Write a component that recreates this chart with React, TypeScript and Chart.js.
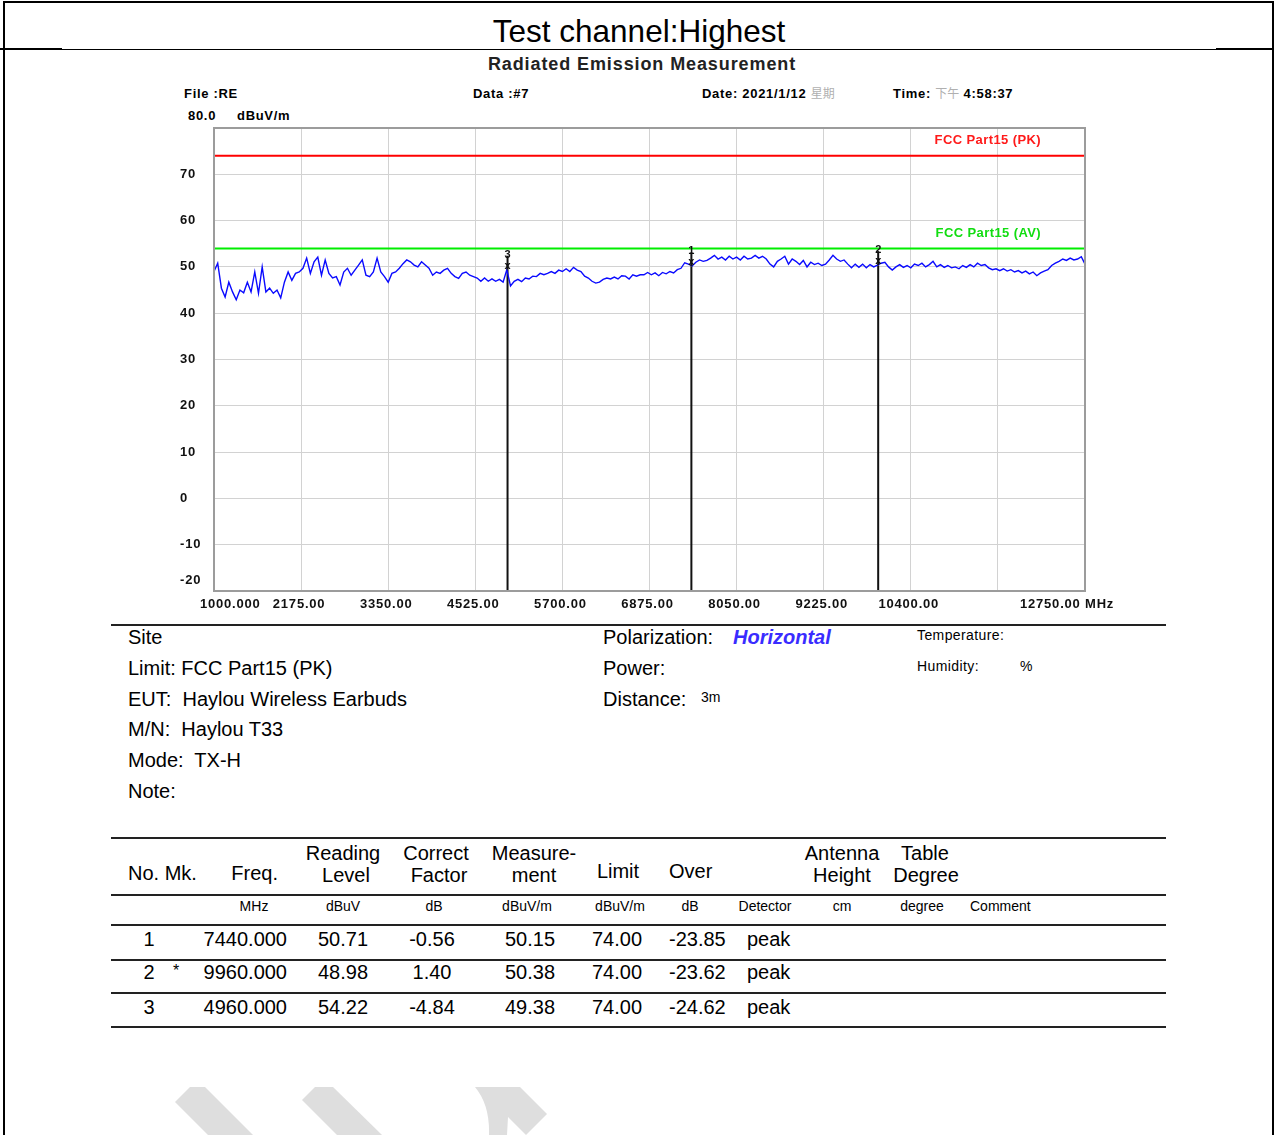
import React, { useEffect, useRef } from 'react';
import { Chart, registerables } from 'chart.js';

Chart.register(...registerables);

// ---------- chart data ----------
const F_START = 1000;
const F_STEP = 50;
const LEVELS_A = [49.0, 50.8, 45.4, 43.5, 46.7, 44.6, 42.9, 45.0, 44.4, 46.7, 44.6, 48.9, 44.3, 50.0, 44.6, 45.4, 44.3, 45.0, 43.3, 46.7, 48.9, 47.1, 48.6, 48.9];
const LEVELS_B = [49.7, 51.9, 48.6, 51.1, 52.1, 48.2, 51.5, 48.6, 47.6, 47.9, 46.1, 48.9, 49.7, 48.2, 49.3, 50.4, 51.5, 48.2, 47.9, 48.9, 51.9, 48.9, 47.9, 46.7];
const LEVELS_C = [48.6, 48.9, 49.7, 50.7, 51.5, 51.1, 50.4, 50.0, 51.1, 50.4, 49.7, 48.2, 48.9, 48.6, 49.3, 49.7, 48.6, 47.9, 47.5, 48.6, 48.9, 48.2, 47.9];
const LEVELS_D = [47.6, 46.9, 47.6, 46.9, 47.4, 46.9, 47.3, 46.7, 49.4, 45.9, 46.9, 47.3, 46.8, 47.6, 47.4, 48.0, 47.9, 48.6, 48.3, 48.6, 49.0, 48.6, 49.3, 49.0];
const LEVELS_E = [49.6, 49.0, 49.9, 49.3, 49.0, 48.0, 47.6, 46.9, 46.5, 46.7, 47.3, 47.6, 47.4, 47.8, 47.4, 48.1, 48.0, 47.4, 48.3, 48.0, 48.3];
const LEVELS_F = [48.3, 48.8, 48.3, 48.7, 48.1, 48.8, 48.5, 49.0, 48.7, 49.4, 49.7, 50.9, 50.6, 50.2, 51.0, 51.5, 51.2, 51.4, 51.9, 52.5, 51.7, 52.1, 51.5, 52.3, 51.7, 52.1, 51.5, 52.3, 51.7, 51.9, 52.5, 51.9, 52.3, 51.7, 50.6, 50.0, 51.2, 51.7, 52.3, 50.6, 51.7, 51.2, 50.5, 51.4, 50.0, 51.0, 50.5, 50.8, 50.3, 50.6, 51.5, 52.5, 51.7, 51.2, 51.5, 50.6, 49.8, 50.6];
const LEVELS_G = [49.9, 50.6, 49.8, 50.5, 50.0, 50.4, 50.8, 51.0, 50.0, 49.3, 50.0, 50.5, 49.9, 50.3, 49.8, 50.6, 50.3, 50.8, 50.0, 50.5, 51.2, 50.0, 50.5, 49.9, 50.3, 49.8, 50.0, 49.6, 50.3, 49.9, 50.5, 50.0, 50.8, 50.3, 50.5, 49.8, 49.4, 49.6, 49.2, 49.6, 49.1, 49.4, 48.9, 49.2, 48.7, 49.1, 48.5, 48.9, 48.1, 48.7, 49.1, 49.4, 50.3, 50.8, 51.2, 51.7, 51.4, 51.9, 51.5, 51.7, 52.2, 50.6];
const LEVELS = [...LEVELS_A, ...LEVELS_B, ...LEVELS_C, ...LEVELS_D, ...LEVELS_E, ...LEVELS_F, ...LEVELS_G];

const PK_LIMIT = 74;
const AV_LIMIT = 54;
const PK_LABEL = 'FCC Part15 (PK)';
const AV_LABEL = 'FCC Part15 (AV)';

const MARKER_NO = ['1', '2', '3'];
const MARKER_FREQ = [7440, 9960, 4960];
const MARKER_LEVEL = [50.15, 50.38, 49.38];

const X_MIN = 1000;
const X_MAX = 12750;
const Y_MIN = -20;
const Y_MAX = 80;
const X_TICKS = [1000, 2175, 3350, 4525, 5700, 6875, 8050, 9225, 10400, 11575, 12750];
const X_LABELS = ['1000.000', '2175.00', '3350.00', '4525.00', '5700.00', '6875.00', '8050.00', '9225.00', '10400.00', '', '12750.00 MHz'];
const Y_TICKS = [70, 60, 50, 40, 30, 20, 10, 0, -10, -20];

// ---------- table data ----------
const ROW_NO = ['1', '2', '3'];
const ROW_MK = ['', '*', ''];
const COL_FREQ = ['7440.000', '9960.000', '4960.000'];
const COL_READING = ['50.71', '48.98', '54.22'];
const COL_CORRECT = ['-0.56', '1.40', '-4.84'];
const COL_MEAS = ['50.15', '50.38', '49.38'];
const COL_LIMIT = ['74.00', '74.00', '74.00'];
const COL_OVER = ['-23.85', '-23.62', '-24.62'];
const COL_DET = ['peak', 'peak', 'peak'];

const SANS = '"Liberation Sans", Arial, sans-serif';
const CJK = '"Noto Sans CJK SC", sans-serif';

type TP = {
  x: number; y: number; s: string; size?: number; align?: 'left' | 'center' | 'right';
  weight?: string; color?: string; italic?: boolean; ls?: number; family?: string;
};
function T({ x, y, s, size = 20, align = 'left', weight = 'normal', color = '#000', italic = false, ls = 0, family = SANS }: TP) {
  const tx = align === 'center' ? '-50%' : align === 'right' ? '-100%' : '0';
  return (
    <div
      style={{
        position: 'absolute', left: x, top: y, transform: `translate(${tx}, -50%)`,
        fontSize: size, lineHeight: 1, whiteSpace: 'pre', fontWeight: weight as any, color,
        fontStyle: italic ? 'italic' : 'normal', letterSpacing: ls, fontFamily: family,
      }}
    >
      {s}
    </div>
  );
}

function HLine({ x, y, w, h = 2, color = '#222' }: { x: number; y: number; w: number; h?: number; color?: string }) {
  return <div style={{ position: 'absolute', left: x, top: y, width: w, height: h, background: color }} />;
}

const CHART_FONT = `bold 13px ${SANS}`;

const overlayPlugin = {
  id: 'overlay',
  afterDraw(chart: any) {
    const { ctx, chartArea: a, scales } = chart;
    const xs = scales.x;
    const ys = scales.y;
    ctx.save();
    // frame
    ctx.strokeStyle = '#9c9c9c';
    ctx.lineWidth = 2;
    ctx.strokeRect(a.left, a.top, a.right - a.left, a.bottom - a.top);

    ctx.font = CHART_FONT;
    (ctx as any).letterSpacing = '0.8px';
    ctx.fillStyle = '#111';
    ctx.textBaseline = 'middle';
    // y labels
    ctx.textAlign = 'left';
    Y_TICKS.forEach((v) => {
      let py = ys.getPixelForValue(v);
      if (v === Y_MIN) py -= 11;
      ctx.fillText(String(v), 10, py);
    });
    // x labels
    X_TICKS.forEach((v, i) => {
      const lab = X_LABELS[i];
      if (!lab) return;
      const px = xs.getPixelForValue(v);
      const py = a.bottom + 13;
      if (i === 0) {
        ctx.textAlign = 'left';
        ctx.fillText(lab, px - 14, py);
      } else if (i === X_TICKS.length - 1) {
        ctx.textAlign = 'left';
        ctx.fillText(lab, px - 65, py);
      } else {
        ctx.textAlign = 'center';
        ctx.fillText(lab, px - 2, py);
      }
    });
    // limit labels
    ctx.textAlign = 'right';
    (ctx as any).letterSpacing = '0.4px';
    ctx.fillStyle = '#ff1a1a';
    ctx.fillText(PK_LABEL, a.right - 44, ys.getPixelForValue(PK_LIMIT) - 15);
    ctx.fillStyle = '#11dd11';
    ctx.fillText(AV_LABEL, a.right - 44, ys.getPixelForValue(AV_LIMIT) - 15);

    // markers
    (ctx as any).letterSpacing = '0px';
    MARKER_FREQ.forEach((f, i) => {
      const px = xs.getPixelForValue(f);
      const py = ys.getPixelForValue(MARKER_LEVEL[i]);
      ctx.strokeStyle = '#111';
      ctx.lineWidth = 2;
      ctx.beginPath();
      ctx.moveTo(px, py);
      ctx.lineTo(px, py - 14);
      ctx.stroke();
      ctx.fillStyle = '#111';
      ctx.textAlign = 'center';
      ctx.font = `bold 11px ${SANS}`;
      ctx.fillText(MARKER_NO[i], px, py - 15);
      ctx.font = `bold 11px ${SANS}`;
      ctx.fillText('x', px, py - 4);
    });
    ctx.restore();
  },
};

function RadiatedChart() {
  const ref = useRef<HTMLCanvasElement>(null);
  useEffect(() => {
    if (!ref.current) return;
    const trace = LEVELS.map((v, i) => ({ x: F_START + i * F_STEP, y: v }));
    const markerSets = MARKER_FREQ.map((f, i) => ({
      label: 'M' + MARKER_NO[i],
      data: [{ x: f, y: Y_MIN }, { x: f, y: MARKER_LEVEL[i] }],
      borderColor: '#111',
      borderWidth: 2,
      pointRadius: 0,
    }));
    const chart = new Chart(ref.current, {
      type: 'line',
      data: {
        datasets: [
          { label: 'trace', data: trace, borderColor: '#0a0aff', borderWidth: 1.4, pointRadius: 0, tension: 0 },
          { label: 'PK', data: [{ x: X_MIN, y: PK_LIMIT }, { x: X_MAX, y: PK_LIMIT }], borderColor: '#ff0000', borderWidth: 2, pointRadius: 0 },
          { label: 'AV', data: [{ x: X_MIN, y: AV_LIMIT }, { x: X_MAX, y: AV_LIMIT }], borderColor: '#00ee00', borderWidth: 2, pointRadius: 0 },
          ...markerSets,
        ],
      },
      options: {
        responsive: false,
        animation: false,
        devicePixelRatio: 1,
        layout: { padding: { left: 44, top: 28, right: 45, bottom: 29 } },
        plugins: { legend: { display: false }, tooltip: { enabled: false } },
        scales: {
          x: {
            type: 'linear', min: X_MIN, max: X_MAX,
            afterBuildTicks: (s: any) => { s.ticks = X_TICKS.map((v) => ({ value: v })); },
            ticks: { display: false },
            grid: { color: '#d2d2d2', lineWidth: 1, drawTicks: false },
            border: { display: false },
          },
          y: {
            type: 'linear', min: Y_MIN, max: Y_MAX,
            ticks: { display: false, stepSize: 10 },
            grid: { color: '#d2d2d2', lineWidth: 1, drawTicks: false },
            border: { display: false },
          },
        },
      },
      plugins: [overlayPlugin],
    } as any);
    return () => chart.destroy();
  }, []);
  return <canvas ref={ref} width={960} height={520} style={{ position: 'absolute', left: 170, top: 100, width: 960, height: 520 }} />;
}

function Watermark() {
  return (
    <svg width={1274} height={1135} style={{ position: 'absolute', left: 0, top: 0 }}>
      <polygon points="190,1087 205,1087 253,1135 208,1135 175,1102" fill="#dedede" />
      <polygon points="315,1087 333,1087 382,1135 337,1135 302,1100" fill="#dedede" />
      <path d="M475,1087 L520,1087 L547,1114 L526,1135 L508,1117 L507,1135 L489,1135 Q490,1105 475,1087 Z" fill="#dedede" />
    </svg>
  );
}

export default function App() {
  const hdr = { size: 13, weight: 'bold', ls: 0.7 } as const;
  const colsY = [939, 972, 1007];
  return (
    <div style={{ position: 'absolute', left: 0, top: 0, width: 1274, height: 1135, background: '#fff', overflow: 'hidden', fontFamily: SANS }}>
      <Watermark />
      {/* page frame */}
      <HLine x={3} y={1} w={1271} h={2} color="#000" />
      <div style={{ position: 'absolute', left: 3, top: 1, width: 2, height: 1134, background: '#000' }} />
      <div style={{ position: 'absolute', left: 1272, top: 1, width: 2, height: 1134, background: '#000' }} />
      <HLine x={4} y={49} w={1269} h={1} color="#000" />
      <HLine x={0} y={48} w={62} h={2} color="#000" />
      <HLine x={1216} y={48} w={58} h={2} color="#000" />
      <T x={639} y={32} s="Test channel:Highest" size={31.5} align="center" />

      {/* chart header */}
      <T x={642} y={64} s="Radiated Emission Measurement" size={18} weight="bold" align="center" ls={0.9} color="#222" />
      <T x={184} y={93} s="File :RE" {...hdr} />
      <T x={473} y={93} s="Data :#7" {...hdr} />
      <div style={{ position: 'absolute', left: 702, top: 93, transform: 'translateY(-50%)', whiteSpace: 'pre', lineHeight: 1 }}>
        <span style={{ fontSize: 13, fontWeight: 'bold', letterSpacing: 0.7 }}>Date: 2021/1/12 </span>
        <span style={{ fontSize: 12, color: '#b0b0b0', fontFamily: CJK }}>星期</span>
      </div>
      <div style={{ position: 'absolute', left: 893, top: 93, transform: 'translateY(-50%)', whiteSpace: 'pre', lineHeight: 1 }}>
        <span style={{ fontSize: 13, fontWeight: 'bold', letterSpacing: 0.7 }}>Time: </span>
        <span style={{ fontSize: 12, color: '#b0b0b0', fontFamily: CJK }}>下午</span>
        <span style={{ fontSize: 13, fontWeight: 'bold', letterSpacing: 0.7 }}> 4:58:37</span>
      </div>
      <T x={188} y={115} s="80.0" {...hdr} />
      <T x={237} y={115} s="dBuV/m" {...hdr} />

      <RadiatedChart />

      {/* info block */}
      <HLine x={111} y={624} w={1055} h={2} />
      <T x={128} y={637} s="Site" />
      <T x={128} y={668} s="Limit: FCC Part15 (PK)" />
      <T x={128} y={699} s="EUT:  Haylou Wireless Earbuds" />
      <T x={128} y={729} s="M/N:  Haylou T33" />
      <T x={128} y={760} s="Mode:  TX-H" />
      <T x={128} y={791} s="Note:" />
      <T x={603} y={637} s="Polarization:" />
      <T x={733} y={637} s="Horizontal" weight="bold" italic color="#3a2cff" />
      <T x={603} y={668} s="Power:" />
      <T x={603} y={699} s="Distance:" />
      <T x={701} y={697} s="3m" size={14} />
      <T x={917} y={635} s="Temperature:" size={14} ls={0.4} />
      <T x={917} y={666} s="Humidity:" size={14} ls={0.4} />
      <T x={1020} y={666} s="%" size={14} />

      {/* table */}
      <HLine x={111} y={837} w={1055} h={2} />
      <T x={128} y={873} s="No. Mk." />
      <T x={278} y={873} s="Freq." align="right" />
      <T x={343} y={853} s="Reading" align="center" />
      <T x={346} y={875} s="Level" align="center" />
      <T x={436} y={853} s="Correct" align="center" />
      <T x={439} y={875} s="Factor" align="center" />
      <T x={534} y={853} s="Measure-" align="center" />
      <T x={534} y={875} s="ment" align="center" />
      <T x={618} y={871} s="Limit" align="center" />
      <T x={669} y={871} s="Over" />
      <T x={842} y={853} s="Antenna" align="center" />
      <T x={842} y={875} s="Height" align="center" />
      <T x={925} y={853} s="Table" align="center" />
      <T x={926} y={875} s="Degree" align="center" />
      <HLine x={111} y={894} w={1055} h={2} />
      <T x={254} y={906} s="MHz" size={14} align="center" />
      <T x={343} y={906} s="dBuV" size={14} align="center" />
      <T x={434} y={906} s="dB" size={14} align="center" />
      <T x={527} y={906} s="dBuV/m" size={14} align="center" />
      <T x={620} y={906} s="dBuV/m" size={14} align="center" />
      <T x={690} y={906} s="dB" size={14} align="center" />
      <T x={765} y={906} s="Detector" size={14} align="center" />
      <T x={842} y={906} s="cm" size={14} align="center" />
      <T x={922} y={906} s="degree" size={14} align="center" />
      <T x={970} y={906} s="Comment" size={14} />
      <HLine x={111} y={924} w={1055} h={2} />
      {ROW_NO.map((n, i) => (
        <React.Fragment key={n}>
          <T x={149} y={colsY[i]} s={n} align="center" />
          <T x={176} y={colsY[i] - 1} s={ROW_MK[i]} size={16} align="center" />
          <T x={287} y={colsY[i]} s={COL_FREQ[i]} align="right" />
          <T x={343} y={colsY[i]} s={COL_READING[i]} align="center" />
          <T x={432} y={colsY[i]} s={COL_CORRECT[i]} align="center" />
          <T x={530} y={colsY[i]} s={COL_MEAS[i]} align="center" />
          <T x={617} y={colsY[i]} s={COL_LIMIT[i]} align="center" />
          <T x={669} y={colsY[i]} s={COL_OVER[i]} />
          <T x={747} y={colsY[i]} s={COL_DET[i]} />
        </React.Fragment>
      ))}
      <HLine x={111} y={959} w={1055} h={2} />
      <HLine x={111} y={992} w={1055} h={2} />
      <HLine x={111} y={1026} w={1055} h={2} />
    </div>
  );
}
